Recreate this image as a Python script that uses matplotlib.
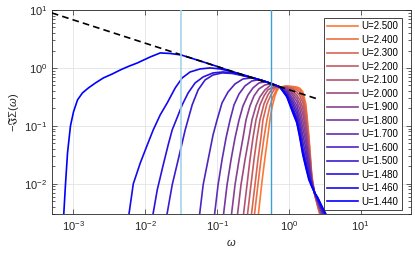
import numpy as np
import matplotlib
matplotlib.use('Agg')
import matplotlib.pyplot as plt
from matplotlib.ticker import LogLocator, NullLocator

plt.rcParams['font.family'] = ['Liberation Sans', 'DejaVu Sans']
plt.rcParams['mathtext.fontset'] = 'custom'
plt.rcParams['mathtext.rm'] = 'Liberation Sans'
plt.rcParams['mathtext.it'] = 'Liberation Sans:italic'
plt.rcParams['mathtext.fallback'] = 'stixsans'

# U values, in plotting / legend order
U = [2.5, 2.4, 2.3, 2.2, 2.1, 2.0, 1.9, 1.8, 1.7, 1.6, 1.5, 1.48, 1.46, 1.44]

# low-frequency rise of each curve (log10 omega, log10 of -Im Sigma)
low_logw = [
    [-0.431, -0.375, -0.333, -0.292, -0.264, -0.236, -0.194, -0.167, -0.139],
    [-0.486, -0.431, -0.389, -0.347, -0.306, -0.264, -0.222, -0.181, -0.153],
    [-0.528, -0.472, -0.431, -0.389, -0.361, -0.306, -0.25, -0.208, -0.167],
    [-0.583, -0.528, -0.486, -0.444, -0.403, -0.347, -0.292, -0.236, -0.181],
    [-0.639, -0.583, -0.542, -0.5, -0.458, -0.403, -0.347, -0.292, -0.222],
    [-0.722, -0.667, -0.611, -0.556, -0.514, -0.458, -0.403, -0.333, -0.25],
    [-0.806, -0.75, -0.694, -0.639, -0.597, -0.542, -0.486, -0.417, -0.333, -0.25],
    [-0.917, -0.861, -0.806, -0.75, -0.694, -0.639, -0.569, -0.5, -0.417, -0.333],
    [-1.042, -0.986, -0.931, -0.875, -0.819, -0.764, -0.694, -0.611, -0.514, -0.431],
    [-1.25, -1.194, -1.125, -1.056, -1.0, -0.931, -0.847, -0.75, -0.639, -0.514],
    [-1.708, -1.625, -1.542, -1.444, -1.347, -1.264, -1.167, -1.056, -0.931, -0.792, -0.653, -0.514],
    [-1.903, -1.833, -1.75, -1.681, -1.625, -1.569, -1.486, -1.403, -1.306, -1.194, -1.056, -0.917, -0.778, -0.653],
    [-2.236, -2.167, -2.069, -1.972, -1.889, -1.792, -1.694, -1.583, -1.486, -1.375, -1.236, -1.097, -0.958],
    [-3.139, -3.111, -3.083, -3.042, -3.0, -2.944, -2.875, -2.792, -2.694, -2.583, -2.458, -2.347, -2.236, -2.111, -1.931],
]
low_logy = [
    [-2.6, -1.966, -1.552, -1.172, -0.897, -0.69, -0.483, -0.397, -0.345],
    [-2.6, -2.017, -1.586, -1.207, -0.897, -0.655, -0.5, -0.397, -0.345],
    [-2.6, -2.017, -1.586, -1.207, -0.897, -0.621, -0.466, -0.379, -0.336],
    [-2.6, -2.017, -1.586, -1.207, -0.897, -0.621, -0.466, -0.362, -0.328],
    [-2.6, -2.017, -1.586, -1.207, -0.897, -0.638, -0.483, -0.379, -0.328],
    [-2.6, -2.017, -1.586, -1.207, -0.897, -0.655, -0.5, -0.379, -0.293],
    [-2.6, -2.017, -1.586, -1.207, -0.897, -0.655, -0.483, -0.362, -0.293, -0.276],
    [-2.6, -2.017, -1.586, -1.207, -0.897, -0.655, -0.466, -0.345, -0.259, -0.241],
    [-2.6, -2.017, -1.586, -1.207, -0.897, -0.638, -0.448, -0.31, -0.224, -0.207],
    [-2.6, -2.017, -1.586, -1.155, -0.897, -0.603, -0.414, -0.276, -0.19, -0.172],
    [-2.6, -2.017, -1.586, -1.069, -0.638, -0.379, -0.207, -0.121, -0.086, -0.095, -0.129, -0.172],
    [-2.6, -2.103, -1.672, -1.328, -1.069, -0.897, -0.638, -0.431, -0.259, -0.155, -0.086, -0.069, -0.086, -0.129],
    [-2.6, -2.0, -1.638, -1.328, -1.069, -0.81, -0.603, -0.345, -0.172, -0.069, -0.017, 0.0, -0.017],
    [-2.6, -2.0, -1.466, -1.0, -0.759, -0.552, -0.431, -0.345, -0.259, -0.172, -0.103, -0.034, 0.026, 0.086, 0.19],
]

# common envelope that all curves follow before the plateau
env_logw = [-1.792, -1.653, -1.5, -1.236, -1.0, -0.778, -0.542, -0.375, -0.25]
env_logy = [0.259, 0.25, 0.224, 0.121, 0.026, -0.069, -0.155, -0.216, -0.267]

# high-frequency drop, same omega grid for every curve
tail_logw = [-0.125, -0.028, 0.056, 0.111, 0.153, 0.194, 0.236, 0.278, 0.319, 0.361, 0.403, 0.458, 0.514]
tail_logy = [
    [-0.33, -0.31, -0.32, -0.33, -0.35, -0.41, -0.62, -1.16, -1.85, -2.19, -2.40, -2.66, -2.80],
    [-0.33, -0.32, -0.33, -0.35, -0.38, -0.46, -0.68, -1.22, -1.88, -2.19, -2.39, -2.63, -2.78],
    [-0.33, -0.32, -0.35, -0.38, -0.42, -0.52, -0.76, -1.28, -1.90, -2.19, -2.38, -2.60, -2.75],
    [-0.33, -0.33, -0.37, -0.42, -0.48, -0.60, -0.85, -1.34, -1.92, -2.18, -2.36, -2.58, -2.72],
    [-0.33, -0.34, -0.40, -0.47, -0.55, -0.70, -0.95, -1.40, -1.93, -2.18, -2.35, -2.56, -2.70],
    [-0.33, -0.35, -0.44, -0.52, -0.63, -0.80, -1.05, -1.46, -1.94, -2.17, -2.34, -2.54, -2.67],
    [-0.33, -0.37, -0.48, -0.58, -0.72, -0.92, -1.16, -1.53, -1.96, -2.17, -2.32, -2.51, -2.64],
    [-0.33, -0.39, -0.53, -0.65, -0.82, -1.04, -1.27, -1.60, -1.97, -2.17, -2.31, -2.49, -2.62],
    [-0.33, -0.41, -0.58, -0.72, -0.92, -1.16, -1.38, -1.67, -1.99, -2.16, -2.30, -2.47, -2.60],
    [-0.33, -0.43, -0.63, -0.79, -1.01, -1.27, -1.49, -1.75, -2.00, -2.16, -2.29, -2.45, -2.58],
    [-0.33, -0.46, -0.69, -0.86, -1.10, -1.38, -1.60, -1.83, -2.02, -2.16, -2.27, -2.43, -2.56],
    [-0.33, -0.47, -0.72, -0.90, -1.15, -1.43, -1.65, -1.87, -2.03, -2.16, -2.26, -2.41, -2.54],
    [-0.33, -0.49, -0.75, -0.93, -1.18, -1.47, -1.69, -1.90, -2.04, -2.16, -2.25, -2.40, -2.53],
    [-0.33, -0.50, -0.78, -0.95, -1.21, -1.50, -1.72, -1.93, -2.05, -2.16, -2.24, -2.38, -2.52],
]

# reference power law (dashed) and the two marker frequencies
dash_w = [5e-4, 2.53]
dash_y = [8.9, 0.29]
vlines_w = [0.031, 0.56]

c_start = np.array([1.0, 0.47, 0.2])
c_end = np.array([0.0, 0.0, 1.0])

fig = plt.figure(figsize=(4.15, 2.57), dpi=100)
ax = fig.add_axes([0.125, 0.167, 0.865, 0.794])

env_logw = np.array(env_logw)
env_logy = np.array(env_logy)
n = len(U)
for i in range(n):
    lw_ = np.array(low_logw[i])
    ly_ = np.array(low_logy[i])
    keep = env_logw > lw_[-1]
    xs = np.concatenate([lw_, env_logw[keep], tail_logw])
    ys = np.concatenate([ly_, env_logy[keep], tail_logy[i]])
    t = i / (n - 1)
    col = (1 - t) * c_start + t * c_end
    ax.plot(10**xs, 10**ys, color=col, lw=1.2, label='U=%.3f' % U[i], zorder=2)

ax.plot(dash_w, dash_y, 'k--', lw=1.2, dashes=(4, 2.5), zorder=3)
ax.axvline(vlines_w[0], color='#a6d3ec', lw=1.2, zorder=4)
ax.axvline(vlines_w[1], color='#3c9fd8', lw=1.0, zorder=4)

ax.set_xscale('log')
ax.set_yscale('log')
ax.set_xlim(5e-4, 50)
ax.set_ylim(3e-3, 10)
ax.xaxis.set_major_locator(LogLocator(base=10, numticks=10))
ax.xaxis.set_minor_locator(NullLocator())
ax.yaxis.set_major_locator(LogLocator(base=10, numticks=10))
ax.yaxis.set_minor_locator(LogLocator(base=10, subs=np.arange(2, 10), numticks=10))

ax.grid(True, which='major', color='#e3e3e3', lw=0.6)
ax.set_axisbelow(True)
for s in ax.spines.values():
    s.set_color('#262626')
    s.set_linewidth(0.6)
ax.tick_params(which='both', direction='in', top=True, right=True,
               colors='#262626', labelsize=8, width=0.5)
ax.tick_params(which='major', length=3.5)
ax.tick_params(which='minor', length=2)

ax.set_xlabel(r'$\omega$', fontsize=8, color='#262626', labelpad=3)
ax.set_ylabel(r'$-\Im\Sigma(\omega)$', fontsize=8, color='#262626', labelpad=2)

leg = ax.legend(loc='upper right', bbox_to_anchor=(0.975, 0.962), fontsize=7,
                frameon=True, fancybox=False, framealpha=1, edgecolor='#262626',
                handlelength=3.2, handletextpad=0.35, labelspacing=0.36,
                borderpad=0.35, borderaxespad=0)
leg.get_frame().set_linewidth(0.6)
leg.set_zorder(10)

fig.savefig('out.png', dpi=100)
